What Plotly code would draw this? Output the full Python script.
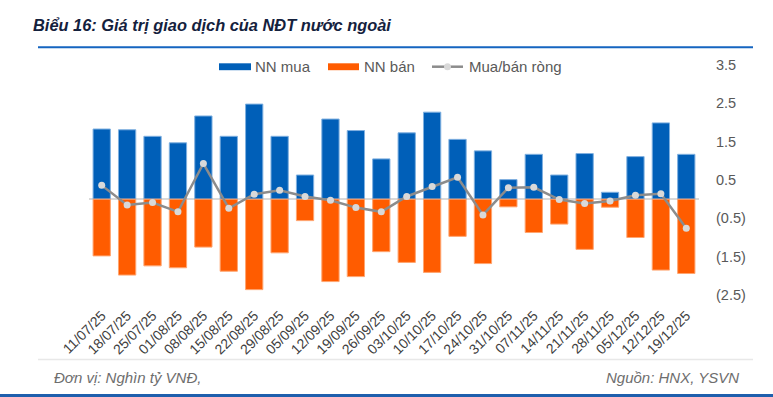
import plotly.graph_objects as go

# ---- data (Nghìn tỷ VNĐ) ----
weeks = ["11/07/25", "18/07/25", "25/07/25", "01/08/25", "08/08/25", "15/08/25",
         "22/08/25", "29/08/25", "05/09/25", "12/09/25", "19/09/25", "26/09/25",
         "03/10/25", "10/10/25", "17/10/25", "24/10/25", "31/10/25", "07/11/25",
         "14/11/25", "21/11/25", "28/11/25", "05/12/25", "12/12/25", "19/12/25"]
nn_mua = [1.83, 1.81, 1.64, 1.47, 2.17, 1.64, 2.48, 1.64, 0.63, 2.09, 1.79, 1.05,
          1.73, 2.27, 1.56, 1.26, 0.51, 1.17, 0.63, 1.19, 0.18, 1.11, 1.99, 1.17]
nn_ban = [-1.48, -1.98, -1.74, -1.79, -1.25, -1.88, -2.36, -1.40, -0.56, -2.15, -2.02, -1.37,
          -1.65, -1.91, -0.97, -1.68, -0.20, -0.87, -0.65, -1.31, -0.21, -1.00, -1.85, -1.94]
rong = [0.36, -0.15, -0.09, -0.33, 0.93, -0.24, 0.13, 0.23, 0.07, -0.03, -0.22, -0.33,
        0.07, 0.33, 0.57, -0.41, 0.30, 0.31, -0.01, -0.11, -0.05, 0.10, 0.14, -0.76]
y_ticks = [3.5, 2.5, 1.5, 0.5, -0.5, -1.5, -2.5]
y_tick_text = ["3.5", "2.5", "1.5", "0.5", "(0.5)", "(1.5)", "(2.5)"]

BLUE = "#005FB8"
ORANGE = "#FF5C00"
LINE_GRAY = "#8C8C8C"
MARK_GRAY = "#D9D9D9"
TXT = "#595959"
FONT = "Liberation Sans, Arial, sans-serif"

W, H = 773, 397
L, R, T, B = 89, 74, 65, 102
pw, ph = W - L - R, H - T - B


def px(x):
    return (x - L) / pw


def py(y):
    return (H - B - y) / ph


fig = go.Figure()
fig.add_trace(go.Bar(x=weeks, y=nn_mua, name="NN mua", marker_color=BLUE,
                     marker_line=dict(color="#7FB0E0", width=1), width=0.68))
fig.add_trace(go.Bar(x=weeks, y=nn_ban, name="NN bán", marker_color=ORANGE,
                     marker_line=dict(color="#FFA570", width=1), width=0.68))
fig.add_trace(go.Scatter(x=weeks, y=rong, name="Mua/bán ròng", mode="lines+markers",
                         line=dict(color=LINE_GRAY, width=2.5),
                         marker=dict(color=MARK_GRAY, size=7)))

shapes = []
annotations = []

# title + rule
annotations.append(dict(text="<b><i>Biểu 16: Giá trị giao dịch của NĐT nước ngoài</i></b>",
                        x=px(31), y=py(25), xref="paper", yref="paper",
                        xanchor="left", yanchor="middle", showarrow=False,
                        font=dict(family=FONT, size=16.4, color="#14213D")))
shapes.append(dict(type="line", xref="paper", yref="paper", x0=px(38), x1=px(753),
                   y0=py(47.3), y1=py(47.3), line=dict(color="#1565C0", width=2)))

# legend (manual)
leg_y = 66.7
shapes.append(dict(type="rect", xref="paper", yref="paper", x0=px(219), x1=px(251),
                   y0=py(63.3), y1=py(70.2), fillcolor=BLUE, line=dict(width=0)))
shapes.append(dict(type="rect", xref="paper", yref="paper", x0=px(328), x1=px(359),
                   y0=py(63.3), y1=py(70.2), fillcolor=ORANGE, line=dict(width=0)))
shapes.append(dict(type="line", xref="paper", yref="paper", x0=px(432), x1=px(463),
                   y0=py(leg_y), y1=py(leg_y), line=dict(color=LINE_GRAY, width=2.5)))
shapes.append(dict(type="circle", xref="paper", yref="paper", x0=px(444), x1=px(451),
                   y0=py(leg_y + 3.5), y1=py(leg_y - 3.5), fillcolor=MARK_GRAY,
                   line=dict(width=0)))
for txt, xx in [("NN mua", 253), ("NN bán", 362), ("Mua/bán ròng", 467)]:
    annotations.append(dict(text=txt, x=px(xx), y=py(leg_y), xref="paper", yref="paper",
                            xanchor="left", yanchor="middle", showarrow=False,
                            font=dict(family=FONT, size=15, color=TXT)))

# footer
shapes.append(dict(type="line", xref="paper", yref="paper", x0=px(38), x1=px(753),
                   y0=py(359.5), y1=py(359.5), line=dict(color="#E8E8E8", width=1.5)))
shapes.append(dict(type="rect", xref="paper", yref="paper", x0=px(0), x1=px(773),
                   y0=py(394), y1=py(398), fillcolor="#1F5FAD", line=dict(width=0)))
annotations.append(dict(text="<i>Đơn vị: Nghìn tỷ VNĐ,</i>", x=px(52), y=py(377),
                        xref="paper", yref="paper", xanchor="left", yanchor="middle",
                        showarrow=False, font=dict(family=FONT, size=15, color="#6E6E6E")))
annotations.append(dict(text="<i>Nguồn: HNX, YSVN</i>", x=px(741), y=py(377),
                        xref="paper", yref="paper", xanchor="right", yanchor="middle",
                        showarrow=False, font=dict(family=FONT, size=15, color="#6E6E6E")))

fig.update_layout(
    width=W, height=H,
    margin=dict(l=L, r=R, t=T, b=B, pad=0),
    paper_bgcolor="white", plot_bgcolor="white",
    barmode="relative", bargap=0.32,
    showlegend=False,
    shapes=shapes, annotations=annotations,
    font=dict(family=FONT, color=TXT),
    xaxis=dict(type="category", tickangle=-45, showgrid=False, showline=False,
               ticks="outside", ticklen=6, tickcolor="rgba(0,0,0,0)",
               tickfont=dict(family=FONT, size=14, color="#404040"),
               range=[-0.5, len(weeks) - 0.5]),
    yaxis=dict(side="right", range=[-2.5, 3.5], tickvals=y_ticks, ticktext=y_tick_text,
               showgrid=False, showline=False, ticks="",
               zeroline=True, zerolinecolor="#D9D9D9", zerolinewidth=2,
               ticklabelstandoff=16,
               tickfont=dict(family=FONT, size=14.5, color=TXT)),
)

fig.write_html("out.html", config={"displayModeBar": False},
               post_script="document.body.style.margin='0';")
